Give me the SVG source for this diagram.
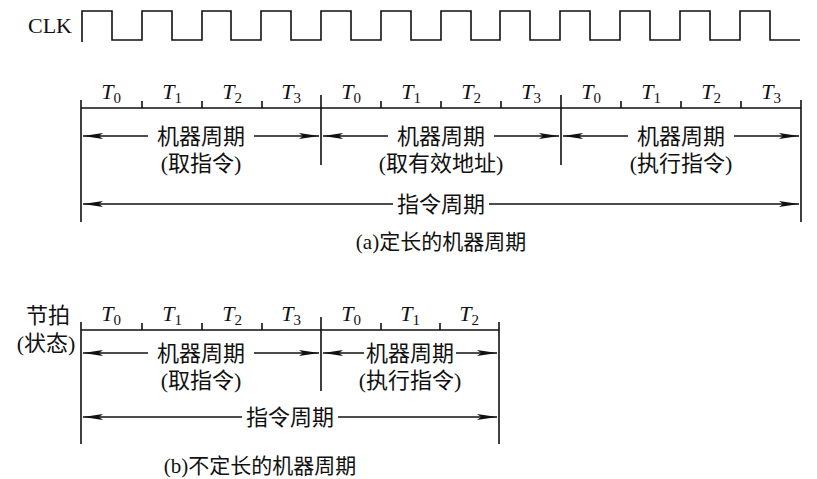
<svg xmlns="http://www.w3.org/2000/svg" width="817" height="479" viewBox="0 0 817 479">
<style>
.l{stroke:#111;stroke-width:1.6;fill:none}
.a{stroke:#111;stroke-width:1.4;fill:none;marker-end:url(#ah)}
.t{font-family:"Liberation Serif","Noto Sans CJK SC",serif;font-size:22px;fill:#111;text-anchor:middle}
.c{font-family:"Liberation Serif","Noto Sans CJK SC",serif;font-size:21px;fill:#111;text-anchor:middle}
.T{font-family:"Liberation Serif",serif;font-size:22px;font-style:italic;fill:#111;text-anchor:middle}
.T tspan{font-style:normal;font-size:15px}
</style>
<defs>
<marker id="ah" viewBox="0 0 20 6" refX="20" refY="3" markerWidth="20" markerHeight="6" markerUnits="userSpaceOnUse" orient="auto"><path d="M0,0 L20,3 L0,6 L4,3 Z" fill="#111"/></marker>
</defs>
<rect width="817" height="479" fill="#fff"/>
<g id="clk">
<text x="50" y="33" class="t" font-size="20">CLK</text>
<path class="l" d="M82,42 V11 H112 V40 H142 V11 H172 V40 H202 V11 H231 V40 H261 V11 H291 V40 H321 V11 H351 V40 H381 V11 H411 V40 H441 V11 H471 V40 H500 V11 H530 V40 H560 V11 H590 V40 H620 V11 H650 V40 H680 V11 H710 V40 H740 V11 H770 V40 H800"/>
</g>
<g id="timeline-a">
<path class="l" d="M81,108 H801 M81,100 V222 M801,100 V222 M321,95 V165 M561,95 V165 M142,101 V108 M202,101 V108 M262,101 V108 M381,101 V108 M441,101 V108 M501,101 V108 M621,101 V108 M681,101 V108 M741,101 V108"/>
<text class="T" x="111" y="99">T<tspan dy="4">0</tspan></text>
<text class="T" x="172" y="99">T<tspan dy="4">1</tspan></text>
<text class="T" x="232" y="99">T<tspan dy="4">2</tspan></text>
<text class="T" x="291" y="99">T<tspan dy="4">3</tspan></text>
<text class="T" x="351" y="99">T<tspan dy="4">0</tspan></text>
<text class="T" x="411" y="99">T<tspan dy="4">1</tspan></text>
<text class="T" x="471" y="99">T<tspan dy="4">2</tspan></text>
<text class="T" x="531" y="99">T<tspan dy="4">3</tspan></text>
<text class="T" x="591" y="99">T<tspan dy="4">0</tspan></text>
<text class="T" x="651" y="99">T<tspan dy="4">1</tspan></text>
<text class="T" x="711" y="99">T<tspan dy="4">2</tspan></text>
<text class="T" x="771" y="99">T<tspan dy="4">3</tspan></text>
</g>
<g id="mc-a1"><text class="t" x="201" y="144">机器周期</text><text class="t" x="201" y="171">(取指令)</text></g>
<g id="mc-a2"><text class="t" x="441" y="144">机器周期</text><text class="t" x="441" y="171">(取有效地址)</text></g>
<g id="mc-a3"><text class="t" x="681" y="144">机器周期</text><text class="t" x="681" y="171">(执行指令)</text></g>
<g id="ic-a"><text class="t" x="441" y="212">指令周期</text></g>
<g id="cap-a"><text class="c" x="441" y="249">(a)定长的机器周期</text></g>
<g id="timeline-b">
<text class="t" x="48" y="323">节拍</text>
<text class="t" x="46" y="351">(状态)</text>
<path class="l" d="M81,330 H499 M81,322 V444 M499,322 V444 M321,317 V391 M142,323 V330 M202,323 V330 M262,323 V330 M381,323 V330 M440,323 V330"/>
<text class="T" x="111" y="321">T<tspan dy="4">0</tspan></text>
<text class="T" x="172" y="321">T<tspan dy="4">1</tspan></text>
<text class="T" x="232" y="321">T<tspan dy="4">2</tspan></text>
<text class="T" x="291" y="321">T<tspan dy="4">3</tspan></text>
<text class="T" x="351" y="321">T<tspan dy="4">0</tspan></text>
<text class="T" x="410" y="321">T<tspan dy="4">1</tspan></text>
<text class="T" x="469" y="321">T<tspan dy="4">2</tspan></text>
</g>
<g id="mc-b1"><text class="t" x="201" y="361">机器周期</text><text class="t" x="201" y="388">(取指令)</text></g>
<g id="mc-b2"><text class="t" x="410" y="361">机器周期</text><text class="t" x="410" y="388">(执行指令)</text></g>
<g id="ic-b"><text class="t" x="290" y="425">指令周期</text></g>
<g id="cap-b"><text class="c" x="260" y="473">(b)不定长的机器周期</text></g>
<g id="connectors">
<path class="a" d="M148,136 H83"/><path class="a" d="M254,136 H319"/>
<path class="a" d="M388,136 H323"/><path class="a" d="M494,136 H559"/>
<path class="a" d="M628,136 H563"/><path class="a" d="M734,136 H799"/>
<path class="a" d="M393,204 H83"/><path class="a" d="M489,204 H799"/>
<path class="a" d="M364,353 H323"/><path class="a" d="M456,353 H497"/>
<path class="a" d="M148,353 H83"/><path class="a" d="M254,353 H319"/>
<path class="a" d="M242,417 H83"/><path class="a" d="M338,417 H497"/>
</g>
</svg>
